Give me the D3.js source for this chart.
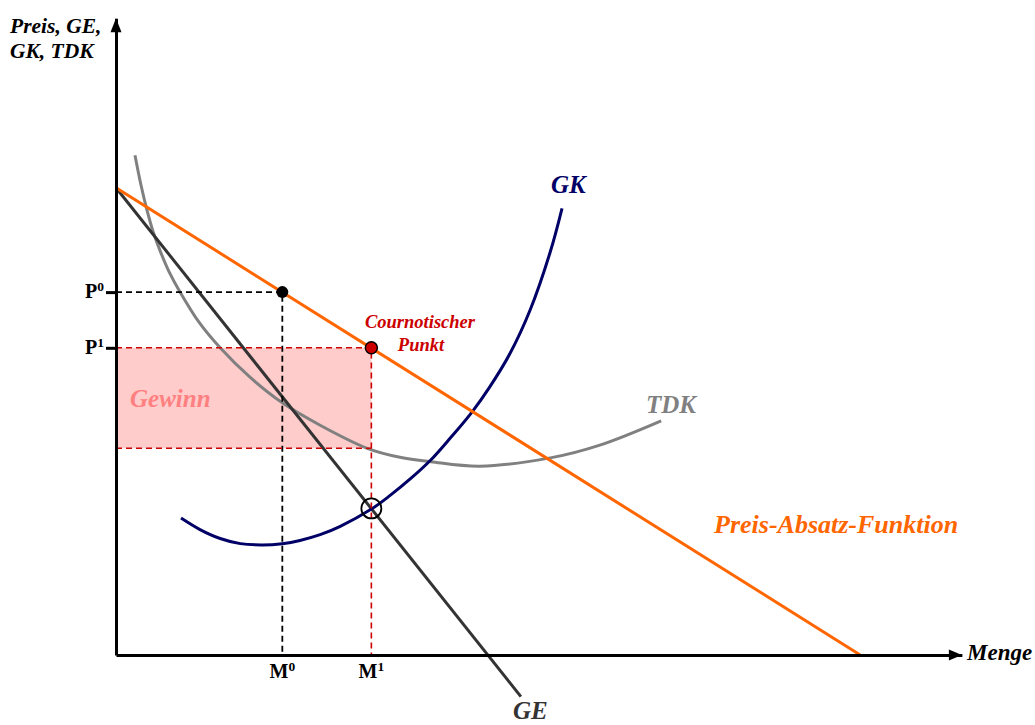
<!DOCTYPE html>
<html><head><meta charset="utf-8">
<script src="https://cdn.jsdelivr.net/npm/d3@7"></script>
<style>
body{margin:0;background:#fff}
svg{display:block}
text{font-family:"Liberation Serif","Times New Roman",serif;font-weight:bold}
</style>
</head><body>
<svg id="chart" width="1035" height="725"></svg>
<script>
// ---- data (units: Menge 0..100, Preis 0..100) ----
const demand = [{m:0,p:73.0},{m:88.6,p:0}];
const ge = [{m:0,p:73.0},{m:48.2,p:-6.5}];
const gk = [
  {m:7.74,p:21.4},{m:10.0,p:19.6},{m:12.4,p:18.2},{m:14.8,p:17.4},{m:17.4,p:17.2},
  {m:19.8,p:17.4},{m:21.9,p:17.9},{m:24.3,p:18.8},{m:26.7,p:20.1},{m:30.4,p:22.8},
  {m:32.6,p:24.9},{m:35.2,p:27.7},{m:37.5,p:30.5},{m:39.8,p:33.9},{m:42.4,p:38.0},
  {m:44.5,p:41.9},{m:46.9,p:47.1},{m:49.3,p:53.9},{m:51.7,p:63.0},{m:53.1,p:69.8}
];
const tdk = [
  {m:2.26,p:78.1},{m:2.98,p:73.4},{m:3.69,p:69.5},{m:4.40,p:66.2},{m:5.36,p:62.8},
  {m:6.31,p:59.9},{m:7.50,p:57.0},{m:9.88,p:52.0},{m:12.4,p:48.0},{m:15.95,p:43.4},
  {m:19.8,p:39.4},{m:24.3,p:35.9},{m:29.9,p:32.3},{m:33.8,p:30.9},{m:37.5,p:30.2},
  {m:43.3,p:29.5},{m:51.7,p:30.8},{m:57.6,p:32.8},{m:64.9,p:36.6}
];
const M0 = 19.8, P0 = 56.7;
const M1 = 30.4, P1 = 48.0;
const tdkAtM1 = 32.3, gkAtM1 = 22.9;
const yTicks = [{v:P0, base:"P", sup:"0"},{v:P1, base:"P", sup:"1"}];
const xTicks = [{v:M0, base:"M", sup:"0"},{v:M1, base:"M", sup:"1"}];
const yAxisEnd = 99.5, xAxisEnd = 100.7;

// ---- scales ----
const svg = d3.select("#chart");
const x = d3.scaleLinear().domain([0,100]).range([116,956]);
const y = d3.scaleLinear().domain([0,100]).range([655,15]);

const C = {orange:"#FF6600", gk:"#000066", tdk:"#808080", ge:"#333333", red:"#CC0000",
           fill:"#FFCCCC", gewinn:"#FF8080"};

// Gewinn rectangle
svg.append("rect")
  .attr("x", x(0)).attr("y", y(P1))
  .attr("width", x(M1)-x(0)).attr("height", y(tdkAtM1)-y(P1))
  .attr("fill", C.fill);

const line = d3.line().x(d=>x(d.m)).y(d=>y(d.p));
const curve = d3.line().x(d=>x(d.m)).y(d=>y(d.p)).curve(d3.curveCatmullRom.alpha(0.5));

// curves
svg.append("path").attr("d", curve(tdk)).attr("fill","none").attr("stroke",C.tdk).attr("stroke-width",3);
svg.append("path").attr("d", line(ge)).attr("fill","none").attr("stroke",C.ge).attr("stroke-width",3);
svg.append("path").attr("d", curve(gk)).attr("fill","none").attr("stroke",C.gk).attr("stroke-width",3);
svg.append("path").attr("d", line(demand)).attr("fill","none").attr("stroke",C.orange).attr("stroke-width",3);

// dashed guides
const dash = (pts, col, w) => svg.append("path").attr("d", line(pts)).attr("fill","none")
  .attr("stroke", col).attr("stroke-width", w).attr("stroke-dasharray","6,4");
dash([{m:0,p:P0},{m:M0,p:P0},{m:M0,p:0}], "#000", 1.8);
dash([{m:0,p:P1},{m:M1,p:P1},{m:M1,p:0}], C.red, 1.6);
dash([{m:0,p:tdkAtM1},{m:M1,p:tdkAtM1}], C.red, 1.6);

// axes
const yAx = d3.axisLeft(y.copy().domain([0,yAxisEnd]).range([y(0), y(yAxisEnd)]))
  .tickValues(yTicks.map(d=>d.v)).tickSize(10).tickSizeOuter(0).tickFormat(()=> "");
const gy = svg.append("g").attr("transform",`translate(${x(0)},0)`).call(yAx);
gy.selectAll("path,line").attr("stroke","#000").attr("stroke-width",3);

const xAx = d3.axisBottom(x.copy().domain([0,xAxisEnd]).range([x(0), x(xAxisEnd)]))
  .tickValues([]).tickSizeOuter(0);
const gx = svg.append("g").attr("transform",`translate(0,${y(0)})`).call(xAx);
gx.selectAll("path").attr("stroke","#000").attr("stroke-width",3);

// arrowheads
const ty = [x(0), y(yAxisEnd)];
svg.append("path").attr("d",`M${ty[0]},${ty[1]}L${ty[0]-5.5},${ty[1]+14}L${ty[0]+5.5},${ty[1]+14}Z`).attr("fill","#000");
const tx = [x(xAxisEnd), y(0)];
svg.append("path").attr("d",`M${tx[0]},${tx[1]}L${tx[0]-13},${tx[1]-5.5}L${tx[0]-13},${tx[1]+5.5}Z`).attr("fill","#000");

// tick labels
yTicks.forEach(t=>{
  const tt = svg.append("text").attr("x", x(0)-12).attr("y", y(t.v)+6)
    .attr("text-anchor","end").attr("font-size",20).attr("fill","#000");
  tt.append("tspan").text(t.base);
  tt.append("tspan").attr("font-size",13.5).attr("dy",-7).text(t.sup);
});
xTicks.forEach(t=>{
  const tt = svg.append("text").attr("x", x(t.v)).attr("y", y(0)+23)
    .attr("text-anchor","middle").attr("font-size",20).attr("fill","#000");
  tt.append("tspan").text(t.base);
  tt.append("tspan").attr("font-size",13.5).attr("dy",-7).text(t.sup);
});

// points
svg.append("circle").attr("cx",x(M1)).attr("cy",y(gkAtM1)).attr("r",10)
  .attr("fill","none").attr("stroke","#000").attr("stroke-width",1.8);
svg.append("circle").attr("cx",x(M0)).attr("cy",y(P0)).attr("r",6).attr("fill","#000");
svg.append("circle").attr("cx",x(M1)).attr("cy",y(P1)).attr("r",6)
  .attr("fill",C.red).attr("stroke","#000").attr("stroke-width",1.5);

// labels
const lab = (t, px, py, size, col, anchor) => svg.append("text").attr("x",px).attr("y",py)
  .attr("font-size",size).attr("font-style","italic").attr("fill",col)
  .attr("text-anchor",anchor||"start").text(t);
lab("Preis, GE,", 10, 33, 21.5, "#000");
lab("GK, TDK", 10, 58, 21.5, "#000");
lab("Menge", 967, 660, 23, "#000");
lab("GK", 551, 193, 25, C.gk);
lab("GE", 513, 719, 25, C.ge);
lab("TDK", 646, 413, 25, C.tdk);
lab("Preis-Absatz-Funktion", 714, 533, 26, C.orange);
lab("Gewinn", 130, 407, 25, C.gewinn);
lab("Cournotischer", 420, 328, 18.5, C.red, "middle");
lab("Punkt", 421, 351, 18.5, C.red, "middle");
</script>
</body></html>
